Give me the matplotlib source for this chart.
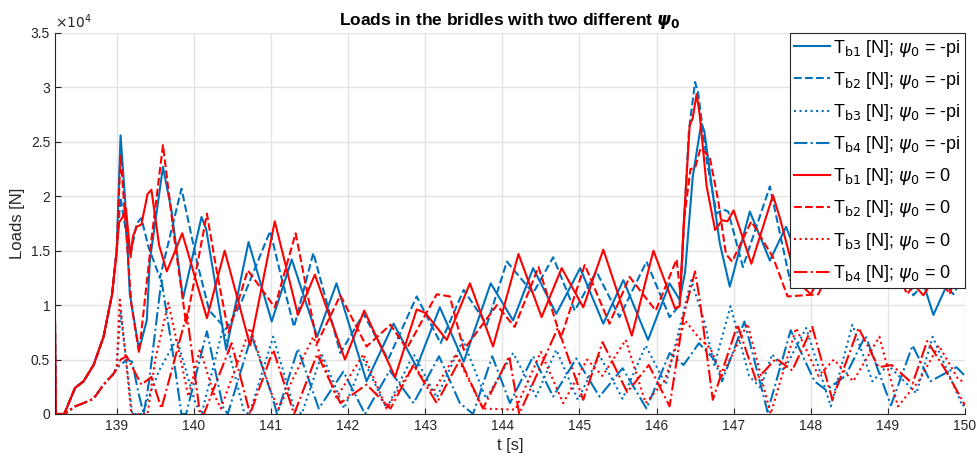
import matplotlib
matplotlib.use("Agg")
import matplotlib.pyplot as plt
from matplotlib.ticker import FuncFormatter

plt.rcParams['font.family'] = ['Liberation Sans', 'DejaVu Sans']
plt.rcParams['mathtext.fontset'] = 'dejavusans'

SCALE = 1e4  # all load values below are in units of 1e4 N

# start-up ramp shared by the bridles
t_ramp_hi = [138.20, 138.21, 138.32, 138.46, 138.57, 138.70, 138.83, 138.94, 139.00]
v_ramp_hi = [0.85, 0.0, 0.0, 0.24, 0.30, 0.45, 0.71, 1.10, 1.50]
t_ramp_lo = [138.20, 138.32, 138.46, 138.57, 138.70, 138.83, 138.96, 139.00]
v_ramp_lo = [0.0, 0.0, 0.07, 0.10, 0.14, 0.27, 0.37, 0.42]

# ---- psi0 = -pi ----
t_b1_m = [139.05, 139.11, 139.17, 139.29, 139.39, 139.43, 139.60, 139.71, 139.86, 140.10, 140.16,
          140.42, 140.71, 141.01, 141.27, 141.60, 141.85, 142.24, 142.59, 142.89, 143.19, 143.50,
          143.85, 144.14, 144.40, 144.70, 145.01, 145.31, 145.57, 145.89, 146.17, 146.30, 146.37,
          146.47, 146.58, 146.62, 146.73, 146.82, 146.95, 147.21, 147.47, 147.68, 147.95, 148.25,
          148.55, 148.85, 149.15, 149.35, 149.59, 149.91, 150.00]
T_b1_m = [2.56, 1.96, 1.10, 0.59, 0.86, 1.41, 2.27, 1.87, 1.06, 1.81, 1.70,
          0.59, 1.58, 0.85, 1.42, 0.71, 1.20, 0.30, 0.83, 0.43, 0.98, 0.48,
          1.20, 0.86, 1.34, 0.92, 1.34, 0.83, 1.23, 0.68, 1.20, 1.05, 1.30,
          2.18, 2.67, 2.60, 2.02, 1.57, 1.17, 1.86, 1.41, 1.72, 1.22, 1.62,
          1.28, 1.58, 1.30, 1.45, 0.91, 1.41, 1.29]

t_b2_m = [139.05, 139.13, 139.18, 139.26, 139.32, 139.41, 139.56, 139.84, 140.04, 140.20, 140.42,
          140.60, 140.80, 140.99, 141.12, 141.30, 141.55, 141.90, 142.20, 142.52, 142.89, 143.20,
          143.50, 143.80, 144.06, 144.40, 144.66, 144.94, 145.22, 145.52, 145.87, 146.17, 146.30,
          146.42, 146.50, 146.54, 146.65, 146.78, 146.86, 146.93, 147.12, 147.47, 147.73, 148.00,
          148.30, 148.60, 148.90, 149.15, 149.33, 149.60, 149.85, 150.00]
T_b2_m = [1.99, 1.63, 1.47, 1.75, 1.80, 1.54, 1.25, 2.07, 1.40, 0.95, 0.78,
          1.00, 1.35, 1.68, 1.30, 0.80, 1.48, 0.56, 0.92, 0.50, 1.08, 0.65,
          1.14, 0.82, 1.40, 1.11, 1.44, 0.95, 1.31, 0.89, 1.40, 0.89, 1.00,
          2.60, 3.05, 2.95, 2.33, 1.84, 1.88, 1.86, 1.35, 2.09, 1.23, 1.60,
          1.20, 1.60, 1.20, 1.50, 1.09, 1.30, 1.10, 1.30]

t_b3_m = [139.05, 139.13, 139.20, 139.33, 139.55, 139.78, 140.02, 140.10, 140.38, 140.65, 140.72,
          141.03, 141.30, 141.40, 141.66, 141.95, 142.20, 142.50, 142.85, 143.15, 143.49, 143.79,
          144.14, 144.44, 144.70, 144.98, 145.26, 145.56, 145.86, 146.12, 146.45, 146.62, 146.75,
          146.96, 147.20, 147.35, 147.50, 147.65, 147.94, 148.26, 148.54, 148.80, 149.00, 149.37,
          149.58, 149.97, 150.00]
T_b3_m = [0.94, 0.45, 0.0, 0.0, 0.40, 0.69, 0.10, 0.0, 0.79, 0.02, 0.0,
          0.71, 0.05, 0.0, 0.55, 0.05, 0.50, 0.05, 0.55, 0.15, 0.68, 0.14,
          0.56, 0.16, 0.59, 0.13, 0.54, 0.14, 0.63, 0.27, 1.23, 0.85, 0.45,
          0.99, 0.35, 0.24, 0.55, 0.40, 0.79, 0.07, 0.82, 0.30, 0.45, 0.19,
          0.71, 0.07, 0.10]

t_b4_m = [139.05, 139.13, 139.20, 139.28, 139.35, 139.42, 139.58, 139.72, 139.84, 139.90, 140.17,
          140.38, 140.44, 140.75, 141.00, 141.08, 141.35, 141.62, 141.94, 142.22, 142.54, 142.85,
          143.18, 143.45, 143.62, 143.87, 144.10, 144.40, 144.66, 144.96, 145.26, 145.56, 145.87,
          146.17, 146.35, 146.55, 146.75, 146.85, 147.14, 147.44, 147.74, 148.05, 148.20, 148.45,
          148.71, 149.04, 149.32, 149.55, 149.89, 150.00]
T_b4_m = [0.45, 0.50, 0.48, 0.20, 0.0, 0.30, 1.23, 0.60, 0.0, 0.0, 0.76,
          0.06, 0.0, 0.72, 0.20, 0.0, 0.60, 0.05, 0.39, 0.0, 0.40, 0.10,
          0.53, 0.10, 0.0, 0.53, 0.10, 0.53, 0.16, 0.51, 0.16, 0.42, 0.05,
          0.56, 0.45, 0.65, 0.50, 0.30, 0.85, 0.02, 0.77, 0.30, 0.22, 0.35,
          0.72, 0.08, 0.63, 0.30, 0.43, 0.35]

# ---- psi0 = 0 ----
t_b1_0 = [139.03, 139.07, 139.12, 139.18, 139.21, 139.26, 139.32, 139.40, 139.45, 139.55, 139.65,
          139.85, 140.17, 140.40, 140.73, 141.05, 141.35, 141.57, 141.96, 142.21, 142.61, 142.89,
          143.00, 143.28, 143.58, 143.88, 144.21, 144.51, 144.77, 145.05, 145.31, 145.68, 145.96,
          146.24, 146.30, 146.35, 146.43, 146.47, 146.52, 146.56, 146.65, 146.76, 146.85, 146.92,
          147.00, 147.08, 147.23, 147.51, 147.60, 147.81, 148.00, 148.35, 148.65, 148.95, 149.20,
          149.46, 149.76, 150.00]
T_b1_0 = [1.76, 1.80, 1.89, 1.44, 1.63, 1.72, 1.74, 2.02, 2.06, 1.55, 1.31,
          1.66, 0.88, 1.50, 0.63, 1.77, 0.91, 1.28, 0.50, 0.95, 0.34, 0.96,
          0.93, 0.68, 1.20, 0.62, 1.47, 0.89, 1.34, 0.98, 1.51, 0.72, 1.50,
          0.97, 0.99, 1.72, 2.65, 2.72, 2.94, 2.75, 2.09, 1.69, 1.78, 1.77,
          1.87, 1.70, 1.38, 2.01, 1.80, 1.23, 1.10, 1.55, 1.25, 1.60, 1.30,
          1.09, 1.41, 1.20]

t_b2_0 = [139.05, 139.12, 139.19, 139.29, 139.45, 139.60, 139.75, 139.90, 140.17, 140.30, 140.45,
          140.70, 141.05, 141.32, 141.60, 141.90, 142.24, 142.55, 142.76, 143.15, 143.32, 143.50,
          143.93, 144.16, 144.47, 144.76, 145.07, 145.39, 145.65, 145.99, 146.26, 146.31, 146.36,
          146.44, 146.50, 146.57, 146.69, 146.80, 146.90, 146.98, 147.23, 147.51, 147.70, 148.10,
          148.40, 148.70, 149.00, 149.25, 149.55, 149.80, 149.98, 150.00]
T_b2_0 = [2.38, 1.70, 1.01, 0.56, 1.60, 2.47, 1.60, 0.83, 1.84, 1.30, 0.75,
          1.32, 0.98, 1.66, 0.65, 1.09, 0.62, 0.82, 0.60, 1.10, 1.08, 0.59,
          1.00, 0.80, 1.35, 0.70, 1.37, 0.83, 1.26, 0.95, 1.42, 1.10, 1.80,
          2.25, 2.26, 2.44, 2.36, 1.96, 1.47, 1.40, 1.77, 1.44, 1.08, 1.10,
          1.60, 1.20, 1.50, 1.10, 1.40, 1.10, 1.50, 1.50]

t_b3_0 = [139.04, 139.12, 139.19, 139.40, 139.50, 139.67, 139.80, 139.93, 140.08, 140.25, 140.35,
          140.73, 141.00, 141.10, 141.55, 141.85, 142.20, 142.50, 142.85, 143.10, 143.40, 143.75,
          144.17, 144.50, 144.79, 145.10, 145.30, 145.60, 145.86, 146.10, 146.37, 146.55, 146.70,
          146.85, 147.18, 147.48, 147.81, 148.10, 148.30, 148.55, 148.89, 149.13, 149.40, 149.66,
          149.92, 150.00]
T_b3_0 = [1.05, 0.50, 0.0, 0.0, 0.50, 1.02, 0.60, 0.16, 0.60, 0.20, 0.05,
          0.79, 0.20, 0.05, 0.71, 0.15, 0.55, 0.05, 0.45, 0.20, 0.55, 0.05,
          0.04, 0.57, 0.10, 0.50, 0.35, 0.68, 0.10, 0.30, 0.86, 0.70, 0.60,
          0.35, 0.83, 0.0, 0.79, 0.35, 0.50, 0.30, 0.71, 0.07, 0.30, 0.63,
          0.31, 0.30]

t_b4_0 = [139.05, 139.13, 139.32, 139.45, 139.58, 139.91, 140.08, 140.13, 140.49, 140.73, 141.03,
          141.30, 141.60, 141.90, 142.24, 142.55, 142.85, 143.15, 143.45, 143.75, 144.09, 144.22,
          144.72, 145.05, 145.30, 145.62, 145.90, 146.17, 146.35, 146.50, 146.56, 146.73, 147.05,
          147.29, 147.55, 147.76, 148.02, 148.28, 148.62, 148.88, 149.05, 149.32, 149.51, 149.75,
          150.00]
T_b4_0 = [0.50, 0.53, 0.27, 0.34, 0.05, 0.92, 0.0, 0.0, 0.65, 0.0, 0.59,
          0.0, 0.55, 0.10, 0.27, 0.05, 0.45, 0.10, 0.50, 0.05, 0.53, 0.0,
          0.79, 0.13, 0.66, 0.20, 0.45, 0.07, 0.90, 1.31, 1.05, 0.13, 0.82,
          0.31, 0.51, 0.40, 0.80, 0.13, 0.79, 0.43, 0.45, 0.28, 0.67, 0.40,
          0.08]

BLUE = '#0072BD'
RED = '#FF0000'

series = [
    (t_ramp_hi + t_b1_m, v_ramp_hi + T_b1_m, BLUE, '-', r'T$_{\mathrm{b1}}$ [N]; $\psi_0$ = -pi'),
    (t_ramp_hi + t_b2_m, v_ramp_hi + T_b2_m, BLUE, '--', r'T$_{\mathrm{b2}}$ [N]; $\psi_0$ = -pi'),
    (t_ramp_lo + t_b3_m, v_ramp_lo + T_b3_m, BLUE, ':', r'T$_{\mathrm{b3}}$ [N]; $\psi_0$ = -pi'),
    (t_ramp_lo + t_b4_m, v_ramp_lo + T_b4_m, BLUE, '-.', r'T$_{\mathrm{b4}}$ [N]; $\psi_0$ = -pi'),
    (t_ramp_hi + t_b1_0, v_ramp_hi + T_b1_0, RED, '-', r'T$_{\mathrm{b1}}$ [N]; $\psi_0$ = 0'),
    (t_ramp_hi + t_b2_0, v_ramp_hi + T_b2_0, RED, '--', r'T$_{\mathrm{b2}}$ [N]; $\psi_0$ = 0'),
    (t_ramp_lo + t_b3_0, v_ramp_lo + T_b3_0, RED, ':', r'T$_{\mathrm{b3}}$ [N]; $\psi_0$ = 0'),
    (t_ramp_lo + t_b4_0, v_ramp_lo + T_b4_0, RED, '-.', r'T$_{\mathrm{b4}}$ [N]; $\psi_0$ = 0'),
]

fig = plt.figure(figsize=(9.77, 4.66), dpi=100)
ax = fig.add_axes([0.0563, 0.1116, 0.9314, 0.8176])

for t, v, c, ls, lab in series:
    ax.plot(t, [x * SCALE for x in v], color=c, ls=ls, lw=1.5, label=lab,
            solid_joinstyle='round', dash_joinstyle='round')

ax.set_xlim(138.2, 150)
ax.set_ylim(0, 3.5e4)
ax.set_xticks(range(139, 151))
ax.set_yticks([i * 5000 for i in range(8)])
ax.yaxis.set_major_formatter(FuncFormatter(lambda y, _: f'{y / 1e4:g}'))
ax.text(0.0, 1.005, r'$\times10^{4}$', transform=ax.transAxes, fontsize=10,
        ha='left', va='bottom', color='#262626')

ax.grid(True, color='#E3E3E3', lw=1.0)
ax.set_axisbelow(True)
ax.tick_params(direction='in', length=4, labelsize=10, colors='#262626', top=False, right=False)
for side in ('left', 'bottom'):
    ax.spines[side].set_color('#262626')
    ax.spines[side].set_linewidth(0.8)
for side in ('top', 'right'):
    ax.spines[side].set_visible(False)

ax.set_xlabel('t [s]', fontsize=12, color='#262626')
ax.set_ylabel('Loads [N]', fontsize=12, color='#262626')
ax.set_title(r'Loads in the bridles with two different $\boldsymbol{\psi}_\mathbf{0}$',
             fontsize=12.5, fontweight='bold', pad=6)

leg = ax.legend(loc='upper right', fontsize=13, frameon=True, fancybox=False,
                edgecolor='#262626', framealpha=1, borderaxespad=0.0,
                handlelength=2.0, labelspacing=0.62, borderpad=0.25, handletextpad=0.15)
leg.get_frame().set_linewidth(0.8)

fig.savefig('out.png', dpi=100)
